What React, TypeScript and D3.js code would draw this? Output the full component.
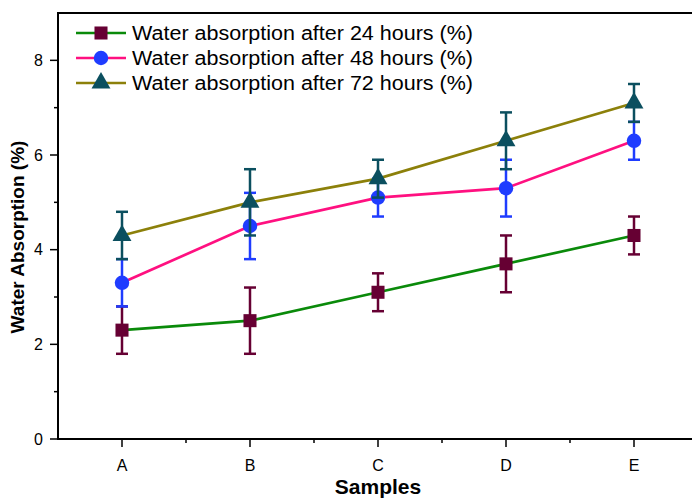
import * as d3 from "d3";
import { useEffect, useRef } from "react";

// Chart data
const samples = ["A", "B", "C", "D", "E"];
const after24 = [2.3, 2.5, 3.1, 3.7, 4.3];
const err24 = [0.5, 0.7, 0.4, 0.6, 0.4];
const after48 = [3.3, 4.5, 5.1, 5.3, 6.3];
const err48 = [0.5, 0.7, 0.4, 0.6, 0.4];
const after72 = [4.3, 5.0, 5.5, 6.3, 7.1];
const err72 = [0.5, 0.7, 0.4, 0.6, 0.4];
const seriesNames = [
  "Water absorption after 24 hours (%)",
  "Water absorption after 48 hours (%)",
  "Water absorption after 72 hours (%)",
];
const yTicks = [0, 2, 4, 6, 8];
const yMinorTicks = [1, 3, 5, 7];

const App = () => {
  const svgRef = useRef<SVGSVGElement | null>(null);

  useEffect(() => {
    if (!svgRef.current) return;
    const svg = d3.select(svgRef.current);
    svg.selectAll("*").remove();

    const width = 692;
    const left = 58;
    const top = 13;
    const bottom = 439;
    const font = "Arial, 'Liberation Sans', sans-serif";

    // x domain runs half a category past each end; the right edge falls outside the frame
    const x = d3.scaleLinear().domain([0.5, 5.5]).range([left, 698]);
    const y = d3.scaleLinear().domain([0, 9]).range([bottom, top]);

    const series = [
      { name: seriesNames[0], values: after24, errs: err24, line: "#0a8a0a", marker: "#660033", shape: d3.symbolSquare, size: 170 },
      { name: seriesNames[1], values: after48, errs: err48, line: "#ff1080", marker: "#1f3cff", shape: d3.symbolCircle, size: 165 },
      { name: seriesNames[2], values: after72, errs: err72, line: "#8c800a", marker: "#0b4f5f", shape: d3.symbolTriangle, size: 155 },
    ];

    // --- axes ---
    const axisG = svg.append("g").attr("stroke", "#000").attr("stroke-width", 2);
    axisG.append("line").attr("x1", left).attr("x2", left).attr("y1", top).attr("y2", bottom + 1);
    axisG.append("line").attr("x1", left - 1).attr("x2", width).attr("y1", bottom).attr("y2", bottom);
    axisG.append("line").attr("x1", left - 1).attr("x2", width).attr("y1", top).attr("y2", top);

    const tickG = svg.append("g").attr("stroke", "#000").attr("stroke-width", 1.5);
    yTicks.forEach((t) => {
      tickG.append("line").attr("x1", left - 8).attr("x2", left).attr("y1", y(t)).attr("y2", y(t));
    });
    yMinorTicks.forEach((t) => {
      tickG.append("line").attr("x1", left - 4).attr("x2", left).attr("y1", y(t)).attr("y2", y(t));
    });
    samples.forEach((_s, i) => {
      tickG.append("line").attr("x1", x(i + 1)).attr("x2", x(i + 1)).attr("y1", bottom).attr("y2", bottom + 8);
      if (i < samples.length - 1) {
        tickG.append("line").attr("x1", x(i + 1.5)).attr("x2", x(i + 1.5)).attr("y1", bottom).attr("y2", bottom + 4);
      }
    });

    svg
      .append("g")
      .selectAll("text")
      .data(yTicks)
      .join("text")
      .attr("x", left - 15)
      .attr("y", (d) => y(d))
      .attr("dy", "0.36em")
      .attr("text-anchor", "end")
      .attr("font-family", font)
      .attr("font-size", 16)
      .text((d) => d);

    svg
      .append("g")
      .selectAll("text")
      .data(samples)
      .join("text")
      .attr("x", (_d, i) => x(i + 1))
      .attr("y", bottom + 32)
      .attr("text-anchor", "middle")
      .attr("font-family", font)
      .attr("font-size", 16)
      .text((d) => d);

    svg
      .append("text")
      .attr("transform", `translate(24, 237) rotate(-90)`)
      .attr("text-anchor", "middle")
      .attr("font-family", font)
      .attr("font-weight", "bold")
      .attr("font-size", 19)
      .text("Water Absorption (%)");

    svg
      .append("text")
      .attr("x", 378)
      .attr("y", 494)
      .attr("text-anchor", "middle")
      .attr("font-family", font)
      .attr("font-weight", "bold")
      .attr("font-size", 21)
      .text("Samples");

    // --- series ---
    const line = d3
      .line<number>()
      .x((_d, i) => x(i + 1))
      .y((d) => y(d));

    series.forEach((s) => {
      const g = svg.append("g");
      // error bars
      s.values.forEach((v, i) => {
        const cx = x(i + 1);
        const e = s.errs[i];
        const eg = g.append("g").attr("stroke", s.marker).attr("stroke-width", 2.5);
        eg.append("line").attr("x1", cx).attr("x2", cx).attr("y1", y(v - e)).attr("y2", y(v + e));
        eg.append("line").attr("x1", cx - 6).attr("x2", cx + 6).attr("y1", y(v - e)).attr("y2", y(v - e));
        eg.append("line").attr("x1", cx - 6).attr("x2", cx + 6).attr("y1", y(v + e)).attr("y2", y(v + e));
      });
      g.append("path")
        .attr("d", line(s.values))
        .attr("fill", "none")
        .attr("stroke", s.line)
        .attr("stroke-width", 2.7);
      g.selectAll("path.marker")
        .data(s.values)
        .join("path")
        .attr("class", "marker")
        .attr("transform", (d, i) => `translate(${x(i + 1)},${y(d)})`)
        .attr("d", d3.symbol().type(s.shape).size(s.size)())
        .attr("fill", s.marker);
    });

    // --- legend ---
    const legend = svg.append("g");
    series.forEach((s, i) => {
      const ly = 33 + i * 25;
      legend
        .append("line")
        .attr("x1", 76)
        .attr("x2", 126)
        .attr("y1", ly)
        .attr("y2", ly)
        .attr("stroke", s.line)
        .attr("stroke-width", 2.7);
      legend
        .append("path")
        .attr("transform", `translate(101,${ly})`)
        .attr("d", d3.symbol().type(s.shape).size(s.size)())
        .attr("fill", s.marker);
      legend
        .append("text")
        .attr("x", 132)
        .attr("y", ly)
        .attr("dy", "0.36em")
        .attr("font-family", font)
        .attr("font-size", 19.5)
        .attr("textLength", 341)
        .attr("lengthAdjust", "spacingAndGlyphs")
        .text(s.name);
    });
  }, []);

  return (
    <svg
      ref={svgRef}
      width={692}
      height={500}
      style={{ position: "absolute", left: 0, top: 0, background: "#fff" }}
    />
  );
};

export default App;
